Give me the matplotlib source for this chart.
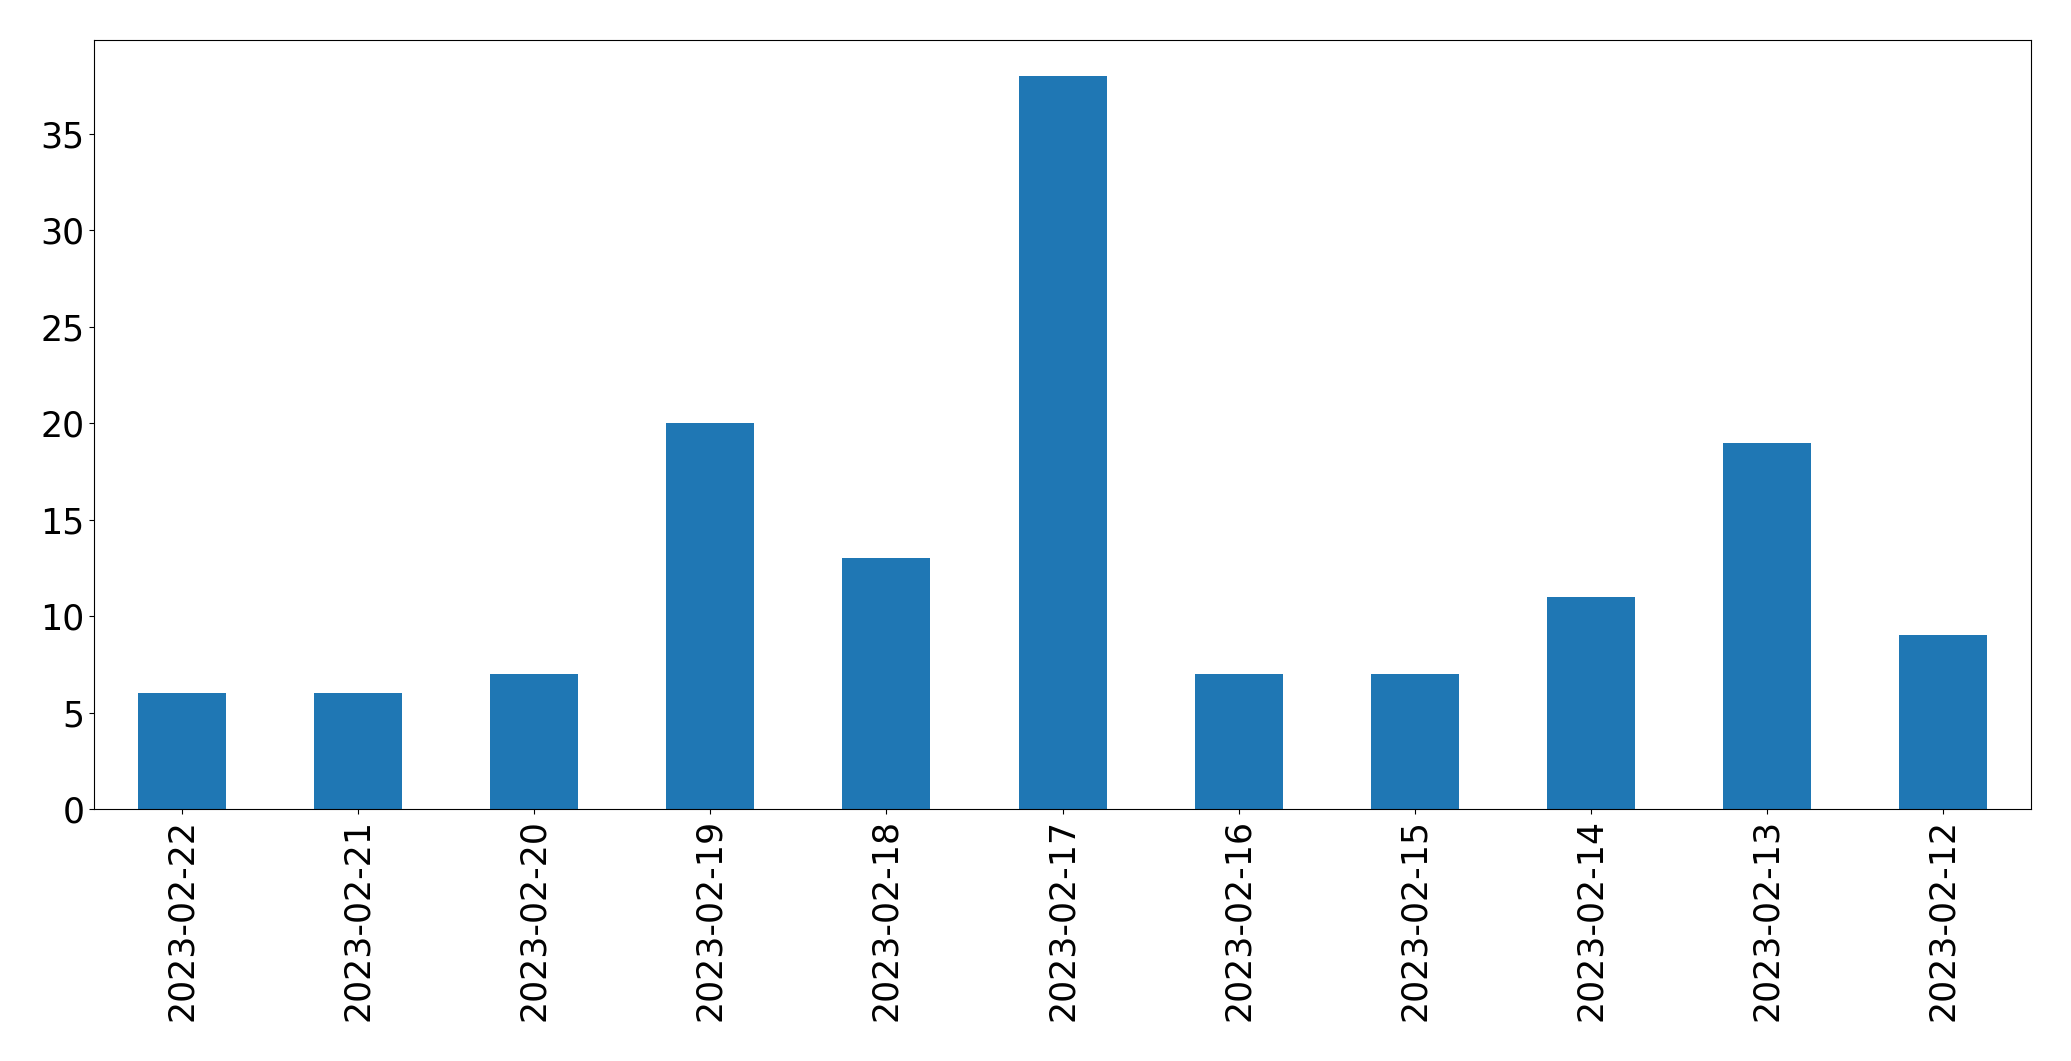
import matplotlib
matplotlib.use("Agg")
import matplotlib.pyplot as plt
import numpy as np

dates = ["2023-02-22", "2023-02-21", "2023-02-20", "2023-02-19", "2023-02-18", "2023-02-17",
         "2023-02-16", "2023-02-15", "2023-02-14", "2023-02-13", "2023-02-12"]
counts = [6, 6, 7, 20, 13, 38, 7, 7, 11, 19, 9]

fig = plt.figure(figsize=(20.71, 10.61), dpi=100)
ax = fig.add_axes([0.0454, 0.2375, 0.9353, 0.7252])

x = np.arange(len(dates))
ax.bar(x, counts, width=0.5, color="#1f77b4")
ax.set_xlim(-0.5, len(dates) - 0.5)
ax.set_xticks(x)
ax.set_xticklabels(dates, rotation=90)
ax.tick_params(labelsize=25)

fig.savefig("out.png", dpi=100)
